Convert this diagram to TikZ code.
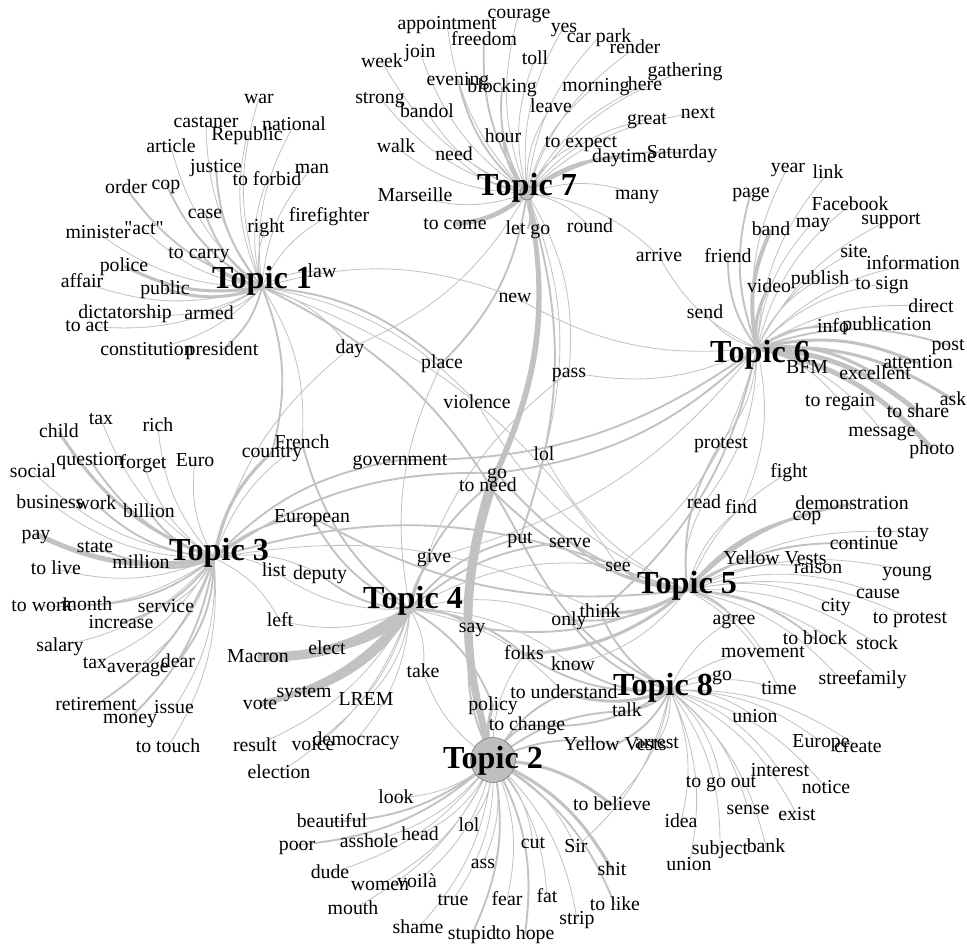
\documentclass[tikz,border=0pt]{standalone}
\usepackage{fontspec}
\setmainfont{Liberation Serif}
\usetikzlibrary{backgrounds}
\definecolor{edgegray}{HTML}{C2C2C2}
\definecolor{hubgray}{HTML}{BEBEBE}

\begin{document}
\begin{tikzpicture}[
  x=0.03cm, y=-0.03cm,
  every node/.style={inner sep=0pt},
  word/.style={font=\fontsize{16.9}{18}\selectfont, text height=12pt, text depth=3pt},
  topic/.style={font=\fontsize{27.4}{29}\selectfont\bfseries, anchor=base},
  hub/.style={circle, draw=black!60, fill=hubgray},
  e/.style={draw=edgegray, line width=0.7pt, bend left=18},
  em/.style={e, line width=1.6pt},
  ew/.style={e, line width=2.6pt}
]
  \useasboundingbox (0,0) rectangle (967,945);

  \coordinate (h1) at (262,287);
  \coordinate (h7) at (527,193);
  \coordinate (h6) at (757,348);
  \coordinate (h3) at (214,558);
  \coordinate (h4) at (410,609);
  \coordinate (h5) at (687,590);
  \coordinate (h8) at (670,690);
  \coordinate (h2) at (493,760);

  \node[hub, minimum size=0.42cm] (c7) at (h7) {};
  \node[hub, minimum size=1.35cm] (c2) at (h2) {};

  \node[topic] (t1) at (262,288) {Topic 1};
  \node[topic] (t7) at (527,195) {Topic 7};
  \node[topic] (t6) at (760,362) {Topic 6};
  \node[topic] (t3) at (219,560) {Topic 3};
  \node[topic] (t4) at (413,608) {Topic 4};
  \node[topic] (t5) at (687,593) {Topic 5};
  \node[topic] (t8) at (663,695) {Topic 8};
  \node[topic] (t2) at (493,768) {Topic 2};

  % Topic 1
  \node[word] (war) at (259,98) {war};
  \node[word] (castaner) at (206,122) {castaner};
  \node[word] (republic) at (247,135) {Republic};
  \node[word] (national) at (294,125) {national};
  \node[word] (article) at (171,147) {article};
  \node[word] (justice) at (216,167) {justice};
  \node[word] (forbid) at (267,180) {to forbid};
  \node[word] (man) at (312,168) {man};
  \node[word] (order) at (126,188) {order};
  \node[word] (copa) at (166,184) {cop};
  \node[word] (case) at (205,213) {case};
  \node[word] (right) at (266,227) {right};
  \node[word] (firefighter) at (329,216) {firefighter};
  \node[word] (minister) at (98,233) {minister};
  \node[word] (act) at (144,229) {\textquotedbl act\textquotedbl};
  \node[word] (carry) at (199,253) {to carry};
  \node[word] (police) at (124,266) {police};
  \node[word] (affair) at (82,282) {affair};
  \node[word] (public) at (165,289) {public};
  \node[word] (law) at (322,272) {law};
  \node[word] (dictatorship) at (125,313) {dictatorship};
  \node[word] (armed) at (209,314) {armed};
  \node[word] (toact) at (87,326) {to act};
  \node[word] (constitution) at (147,350) {constitution};
  \node[word] (president) at (222,350) {president};

  % Topic 7
  \node[word] (courage) at (519,13) {courage};
  \node[word] (appointment) at (447,24) {appointment};
  \node[word] (yes) at (564,27) {yes};
  \node[word] (freedom) at (484,40) {freedom};
  \node[word] (carpark) at (599,37) {car park};
  \node[word] (render) at (635,48) {render};
  \node[word] (join) at (420,52) {join};
  \node[word] (toll) at (535,59) {toll};
  \node[word] (week) at (382,62) {week};
  \node[word] (gathering) at (685,71) {gathering};
  \node[word] (evening) at (458,80) {evening};
  \node[word] (blocking) at (502,87) {blocking};
  \node[word] (morning) at (596,86) {morning};
  \node[word] (here) at (645,85) {here};
  \node[word] (strong) at (380,98) {strong};
  \node[word] (bandol) at (427,112) {bandol};
  \node[word] (leave) at (551,107) {leave};
  \node[word] (great) at (647,119) {great};
  \node[word] (next) at (698,113) {next};
  \node[word] (hour) at (503,137) {hour};
  \node[word] (expect) at (581,142) {to expect};
  \node[word] (walk) at (396,147) {walk};
  \node[word] (need) at (454,155) {need};
  \node[word] (daytime) at (624,157) {daytime};
  \node[word] (saturday) at (682,153) {Saturday};
  \node[word] (many) at (637,194) {many};
  \node[word] (marseille) at (415,196) {Marseille};
  \node[word] (come) at (455,224) {to come};
  \node[word] (letgo) at (528,229) {let go};
  \node[word] (round) at (590,227) {round};

  % Topic 6
  \node[word] (year) at (788,167) {year};
  \node[word] (link) at (828,173) {link};
  \node[word] (page) at (751,192) {page};
  \node[word] (facebook) at (850,205) {Facebook};
  \node[word] (may) at (813,222) {may};
  \node[word] (support) at (891,219) {support};
  \node[word] (band) at (771,230) {band};
  \node[word] (friend) at (728,257) {friend};
  \node[word] (site) at (854,252) {site};
  \node[word] (information) at (913,264) {information};
  \node[word] (video) at (769,287) {video};
  \node[word] (publish) at (820,279) {publish};
  \node[word] (tosign) at (882,284) {to sign};
  \node[word] (send) at (705,313) {send};
  \node[word] (direct) at (931,307) {direct};
  \node[word] (info) at (833,327) {info};
  \node[word] (publication) at (887,325) {publication};
  \node[word] (post) at (948,345) {post};
  \node[word] (bfm) at (807,368) {BFM};
  \node[word] (attention) at (918,363) {attention};
  \node[word] (excellent) at (875,374) {excellent};
  \node[word] (regain) at (840,401) {to regain};
  \node[word] (ask) at (953,400) {ask};
  \node[word] (share) at (918,412) {to share};
  \node[word] (message) at (882,431) {message};
  \node[word] (photo) at (932,449) {photo};
  \node[word] (arrive) at (659,256) {arrive};
  \node[word] (protest) at (721,443) {protest};

  % Topic 3
  \node[word] (taxa) at (101,419) {tax};
  \node[word] (rich) at (158,426) {rich};
  \node[word] (child) at (59,432) {child};
  \node[word] (question) at (90,460) {question};
  \node[word] (forget) at (143,463) {forget};
  \node[word] (euro) at (195,461) {Euro};
  \node[word] (social) at (33,472) {social};
  \node[word] (business) at (50,503) {business};
  \node[word] (work) at (96,504) {work};
  \node[word] (billion) at (149,512) {billion};
  \node[word] (pay) at (36,534) {pay};
  \node[word] (state) at (95,547) {state};
  \node[word] (million) at (141,563) {million};
  \node[word] (tolive) at (56,569) {to live};
  \node[word] (towork) at (42,606) {to work};
  \node[word] (month) at (87,605) {month};
  \node[word] (service) at (166,607) {service};
  \node[word] (increase) at (121,623) {increase};
  \node[word] (salary) at (60,646) {salary};
  \node[word] (taxb) at (95,663) {tax};
  \node[word] (average) at (138,667) {average};
  \node[word] (dear) at (178,662) {dear};
  \node[word] (retirement) at (96,705) {retirement};
  \node[word] (money) at (130,718) {money};
  \node[word] (issue) at (174,708) {issue};
  \node[word] (totouch) at (168,747) {to touch};

  % Topic 4
  \node[word] (country) at (272,452) {country};
  \node[word] (french) at (302,443) {French};
  \node[word] (european) at (312,517) {European};
  \node[word] (list) at (274,571) {list};
  \node[word] (deputy) at (320,574) {deputy};
  \node[word] (left) at (280,621) {left};
  \node[word] (macron) at (258,657) {Macron};
  \node[word] (elect) at (327,649) {elect};
  \node[word] (system) at (304,692) {system};
  \node[word] (vote) at (260,704) {vote};
  \node[word] (lrem) at (366,700) {LREM};
  \node[word] (result) at (255,746) {result};
  \node[word] (voice) at (313,745) {voice};
  \node[word] (democracy) at (356,740) {democracy};
  \node[word] (election) at (279,773) {election};
  \node[word] (give) at (434,557) {give};
  \node[word] (take) at (423,672) {take};

  % Topic 5
  \node[word] (fight) at (789,472) {fight};
  \node[word] (read) at (704,503) {read};
  \node[word] (find) at (741,508) {find};
  \node[word] (demonstration) at (852,504) {demonstration};
  \node[word] (copb) at (807,515) {cop};
  \node[word] (tostay) at (903,532) {to stay};
  \node[word] (continue) at (864,544) {continue};
  \node[word] (yva) at (775,559) {Yellow Vests};
  \node[word] (raison) at (818,568) {raison};
  \node[word] (young) at (907,571) {young};
  \node[word] (cause) at (878,593) {cause};
  \node[word] (city) at (836,606) {city};
  \node[word] (agree) at (734,619) {agree};
  \node[word] (toprotest) at (910,618) {to protest};
  \node[word] (toblock) at (815,639) {to block};
  \node[word] (stock) at (877,644) {stock};
  \node[word] (movement) at (763,652) {movement};
  \node[word] (street) at (840,679) {street};
  \node[word] (family) at (881,679) {family};
  \node[word] (time) at (779,689) {time};

  % Topic 8
  \node[word] (gob) at (722,675) {go};
  \node[word] (uniona) at (755,717) {union};
  \node[word] (europe) at (821,742) {Europe};
  \node[word] (create) at (858,747) {create};
  \node[word] (interest) at (780,771) {interest};
  \node[word] (goout) at (721,782) {to go out};
  \node[word] (notice) at (826,788) {notice};
  \node[word] (believe) at (612,805) {to believe};
  \node[word] (sense) at (748,809) {sense};
  \node[word] (exist) at (797,815) {exist};
  \node[word] (idea) at (681,822) {idea};
  \node[word] (subject) at (720,849) {subject};
  \node[word] (bank) at (766,847) {bank};
  \node[word] (unionb) at (689,865) {union};
  \node[word] (arrest) at (657,743) {arrest};
  \node[word] (talk) at (627,711) {talk};
  \node[word] (yvb) at (615,745) {Yellow Vests};

  % Topic 2
  \node[word] (look) at (396,798) {look};
  \node[word] (beautiful) at (332,822) {beautiful};
  \node[word] (lolb) at (469,826) {lol};
  \node[word] (poor) at (297,845) {poor};
  \node[word] (asshole) at (369,842) {asshole};
  \node[word] (head) at (420,835) {head};
  \node[word] (cut) at (533,843) {cut};
  \node[word] (sir) at (576,847) {Sir};
  \node[word] (ass) at (483,863) {ass};
  \node[word] (dude) at (330,873) {dude};
  \node[word] (shit) at (612,870) {shit};
  \node[word] (women) at (380,885) {women};
  \node[word] (voila) at (417,882) {voilà};
  \node[word] (true) at (453,900) {true};
  \node[word] (fear) at (507,900) {fear};
  \node[word] (fat) at (547,897) {fat};
  \node[word] (tolike) at (615,905) {to like};
  \node[word] (mouth) at (353,909) {mouth};
  \node[word] (strip) at (577,919) {strip};
  \node[word] (shame) at (418,928) {shame};
  \node[word] (stupid) at (472,934) {stupid};
  \node[word] (tohope) at (525,934) {to hope};

  % shared words
  \node[word] (new) at (515,297) {new};
  \node[word] (place) at (442,363) {place};
  \node[word] (day) at (350,348) {day};
  \node[word] (pass) at (569,372) {pass};
  \node[word] (violence) at (477,403) {violence};
  \node[word] (lola) at (544,455) {lol};
  \node[word] (government) at (400,460) {government};
  \node[word] (goa) at (497,473) {go};
  \node[word] (toneed) at (488,486) {to need};
  \node[word] (put) at (520,538) {put};
  \node[word] (serve) at (570,542) {serve};
  \node[word] (see) at (618,566) {see};
  \node[word] (only) at (569,620) {only};
  \node[word] (think) at (600,612) {think};
  \node[word] (say) at (472,627) {say};
  \node[word] (folks) at (524,654) {folks};
  \node[word] (know) at (573,665) {know};
  \node[word] (understand) at (564,693) {to understand};
  \node[word] (policy) at (493,705) {policy};
  \node[word] (change) at (527,725) {to change};

  \begin{scope}[on background layer]
    \fill[white] (0,0) rectangle (967,945);
    % Topic 1
    \draw[e] (h1) to (war.center) (h1) to (castaner.center) (h1) to (republic.center)
      (h1) to (national.center) (h1) to (article.center) (h1) to (man.center)
      (h1) to (forbid.center) (h1) to (firefighter.center) (h1) to (minister.center)
      (h1) to (act.center) (h1) to (affair.center) (h1) to (dictatorship.center)
      (h1) to (toact.center) (h1) to (constitution.center) (h1) to (armed.center)
      (h1) to (law.center) (h1) to (right.center) (h1) to (day.center)
      (h1) to (violence.center) (h1) to (new.center) (h1) to (french.center)
      (h1) to (see.center);
    \draw[em] (h1) to (justice.center) (h1) to (case.center) (h1) to (carry.center)
      (h1) to (president.center) (h1) to (copa.center) (h1) to (order.center)
      (h1) to (place.center) (h1) to (country.center) (h1) to (put.center);
    \draw[ew] (h1) to (police.center) (h1) to (public.center);
    % Topic 7
    \draw[e] (h7) to (courage.center) (h7) to (appointment.center) (h7) to (yes.center)
      (h7) to (carpark.center) (h7) to (render.center) (h7) to (join.center)
      (h7) to (week.center) (h7) to (gathering.center) (h7) to (morning.center)
      (h7) to (here.center) (h7) to (strong.center) (h7) to (bandol.center)
      (h7) to (great.center) (h7) to (next.center) (h7) to (expect.center)
      (h7) to (walk.center) (h7) to (need.center) (h7) to (many.center)
      (h7) to (marseille.center) (h7) to (round.center) (h7) to (toll.center)
      (h7) to (leave.center) (h7) to (day.center) (h7) to (arrive.center)
      (h7) to (lola.center) (h7) to (pass.center);
    \draw[em] (h7) to (freedom.center) (h7) to (evening.center) (h7) to (blocking.center)
      (h7) to (hour.center) (h7) to (saturday.center) (h7) to (letgo.center)
      (h7) to (place.center) (h7) to (toneed.center) (h7) to (put.center);
    \draw[ew] (h7) to (daytime.center);
    \draw[e, line width=4pt] (h7) to (come.center) (h7) to (goa.center);
    % Topic 6
    \draw[e] (h6) to (year.center) (h6) to (link.center) (h6) to (facebook.center)
      (h6) to (may.center) (h6) to (support.center) (h6) to (site.center)
      (h6) to (information.center) (h6) to (publish.center) (h6) to (tosign.center)
      (h6) to (direct.center) (h6) to (publication.center) (h6) to (regain.center)
      (h6) to (message.center) (h6) to (send.center) (h6) to (arrive.center)
      (h6) to (new.center) (h6) to (pass.center) (h6) to (give.center)
      (h6) to (protest.center) (h6) to (read.center) (h6) to (find.center)
      (h6) to (see.center);
    \draw[em] (h6) to (page.center) (h6) to (friend.center) (h6) to (info.center)
      (h6) to (post.center) (h6) to (bfm.center) (h6) to (government.center)
      (h6) to (think.center) (h6) to (goa.center);
    \draw[ew] (h6) to (video.center) (h6) to (attention.center) (h6) to (excellent.center)
      (h6) to (ask.center);
    \draw[e, line width=3.4pt] (h6) to (band.center);
    \draw[e, line width=4.2pt] (h6) to (share.center) (h6) to (photo.center);
    % Topic 3
    \draw[e] (h3) to (taxa.center) (h3) to (rich.center) (h3) to (forget.center)
      (h3) to (euro.center) (h3) to (social.center) (h3) to (business.center)
      (h3) to (tolive.center) (h3) to (towork.center) (h3) to (service.center)
      (h3) to (salary.center) (h3) to (taxb.center) (h3) to (average.center)
      (h3) to (issue.center) (h3) to (totouch.center) (h3) to (french.center)
      (h3) to (list.center) (h3) to (deputy.center) (h3) to (left.center)
      (h3) to (day.center) (h3) to (think.center);
    \draw[em] (h3) to (question.center) (h3) to (work.center) (h3) to (billion.center)
      (h3) to (state.center) (h3) to (increase.center) (h3) to (month.center)
      (h3) to (dear.center) (h3) to (retirement.center) (h3) to (money.center)
      (h3) to (european.center) (h3) to (government.center) (h3) to (see.center)
      (h3) to (goa.center);
    \draw[ew] (h3) to (million.center) (h3) to (child.center) (h3) to (country.center);
    \draw[e, line width=4.2pt] (h3) to (pay.center);
    % Topic 4
    \draw[e] (h4) to (list.center) (h4) to (lrem.center) (h4) to (result.center)
      (h4) to (voice.center) (h4) to (democracy.center) (h4) to (election.center)
      (h4) to (take.center) (h4) to (left.center) (h4) to (place.center)
      (h4) to (pass.center) (h4) to (know.center) (h4) to (only.center)
      (h4) to (understand.center) (h4) to (see.center);
    \draw[em] (h4) to (deputy.center) (h4) to (give.center) (h4) to (french.center)
      (h4) to (european.center) (h4) to (toneed.center) (h4) to (put.center)
      (h4) to (serve.center) (h4) to (say.center) (h4) to (folks.center)
      (h4) to (policy.center);
    \draw[e, line width=5pt] (h4) to (elect.center) (h4) to (vote.center);
    \draw[e, line width=6pt] (h4) to (system.center);
    \draw[e, line width=8pt] (h4) to (macron.center);
    % Topic 5
    \draw[e] (h5) to (fight.center) (h5) to (read.center) (h5) to (find.center)
      (h5) to (raison.center) (h5) to (young.center) (h5) to (cause.center)
      (h5) to (city.center) (h5) to (toprotest.center) (h5) to (stock.center)
      (h5) to (street.center) (h5) to (family.center) (h5) to (tostay.center)
      (h5) to (violence.center) (h5) to (lola.center) (h5) to (know.center)
      (h5) to (movement.center) (h5) to (time.center);
    \draw[em] (h5) to (continue.center) (h5) to (yva.center) (h5) to (agree.center)
      (h5) to (toblock.center) (h5) to (european.center) (h5) to (protest.center)
      (h5) to (goa.center) (h5) to (toneed.center) (h5) to (say.center)
      (h5) to (see.center) (h5) to (only.center) (h5) to (serve.center);
    \draw[ew] (h5) to (demonstration.center) (h5) to (copb.center)
      (h5) to (think.center) (h5) to (folks.center);
    % Topic 8
    \draw[e] (h8) to (uniona.center) (h8) to (europe.center) (h8) to (create.center)
      (h8) to (interest.center) (h8) to (goout.center) (h8) to (notice.center)
      (h8) to (sense.center) (h8) to (exist.center) (h8) to (idea.center)
      (h8) to (subject.center) (h8) to (bank.center) (h8) to (unionb.center)
      (h8) to (arrest.center) (h8) to (gob.center) (h8) to (time.center)
      (h8) to (agree.center) (h8) to (believe.center) (h8) to (sir.center)
      (h8) to (movement.center);
    \draw[em] (h8) to (talk.center) (h8) to (yvb.center) (h8) to (think.center)
      (h8) to (only.center) (h8) to (know.center) (h8) to (folks.center)
      (h8) to (put.center) (h8) to (change.center);
    \draw[ew] (h8) to (understand.center);
    % Topic 2
    \draw[e] (h2) to (look.center) (h2) to (head.center) (h2) to (lolb.center)
      (h2) to (dude.center) (h2) to (women.center) (h2) to (voila.center)
      (h2) to (mouth.center) (h2) to (true.center) (h2) to (shame.center)
      (h2) to (ass.center) (h2) to (fear.center) (h2) to (cut.center)
      (h2) to (fat.center) (h2) to (strip.center) (h2) to (sir.center)
      (h2) to (asshole.center) (h2) to (take.center) (h2) to (folks.center);
    \draw[em] (h2) to (beautiful.center) (h2) to (poor.center) (h2) to (stupid.center)
      (h2) to (tohope.center) (h2) to (tolike.center) (h2) to (change.center)
      (h2) to (understand.center) (h2) to (say.center) (h2) to (yvb.center)
      (h2) to (talk.center);
    \draw[ew] (h2) to (shit.center) (h2) to (believe.center) (h2) to (policy.center);
    \draw[e, line width=3.4pt] (h2) to (toneed.center);
    \draw[e, line width=6pt] (h2) to (goa.center);
  \end{scope}
\end{tikzpicture}
\end{document}
